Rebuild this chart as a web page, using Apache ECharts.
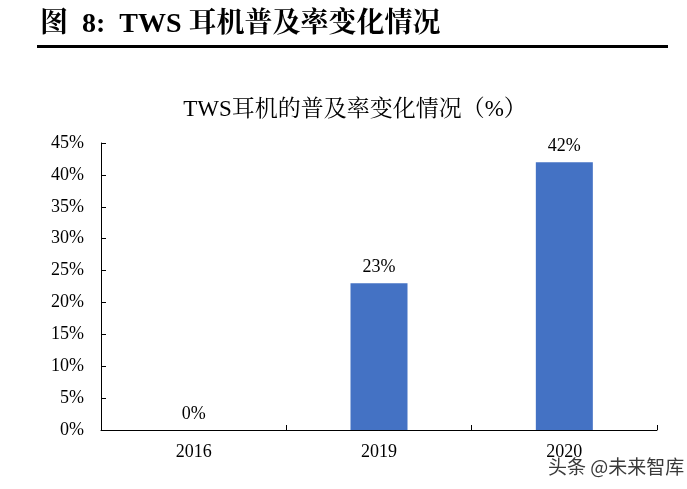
<!DOCTYPE html>
<html><head><meta charset="utf-8">
<script src="https://cdn.jsdelivr.net/npm/echarts@6/dist/echarts.min.js"></script>
<style>html,body{margin:0;padding:0;background:#fff;}#c{width:687px;height:489px;}</style>
</head><body><div id="c"></div>
<script>
const categories = ['2016', '2019', '2020'];
const values = [0, 23, 42];
const yTicks = [0, 5, 10, 15, 20, 25, 30, 35, 40, 45];
const headerText = '图  8:  TWS 耳机普及率变化情况';
const chartTitle = 'TWS耳机的普及率变化情况（%）';
const watermark = '头条 @未来智库';

const serif = '"Liberation Serif", "Times New Roman", "Noto Serif CJK SC", "Noto Sans CJK SC", serif';
const chart = echarts.init(document.getElementById('c'));
chart.setOption({
  backgroundColor: '#fff',
  animation: false,
  title: {
    text: chartTitle, left: 350, textAlign: 'center', top: 93,
    textStyle: { fontFamily: serif, fontSize: 23, fontWeight: 'normal', color: '#000' }
  },
  grid: { left: 101, right: 30, top: 143, bottom: 59 },
  xAxis: {
    type: 'category', data: categories,
    axisLine: { lineStyle: { color: '#000', width: 1 } },
    axisTick: { show: true, inside: true, length: 5, lineStyle: { color: '#000' } },
    axisLabel: { color: '#000', fontFamily: serif, fontSize: 18, margin: 13 }
  },
  yAxis: {
    type: 'value', min: 0, max: 45, interval: 5,
    axisLine: { show: true, lineStyle: { color: '#000', width: 1 } },
    axisTick: { show: true, inside: true, length: 5, lineStyle: { color: '#000' } },
    splitLine: { show: false },
    axisLabel: { color: '#000', fontFamily: serif, fontSize: 18, margin: 17,
      formatter: v => yTicks.includes(v) ? v + '%' : '' }
  },
  series: [{
    type: 'bar', data: values, barWidth: 57,
    itemStyle: { color: '#4472C4' },
    label: { show: true, position: 'top', distance: 7, formatter: '{c}%',
      color: '#000', fontFamily: serif, fontSize: 18 }
  }],
  graphic: [
    { type: 'text', left: 40, top: 11,
      style: { text: headerText, font: 'bold 28px ' + serif, fill: '#000' } },
    { type: 'rect', shape: { x: 37, y: 45, width: 631, height: 3 }, style: { fill: '#000' } },
    { type: 'text', left: 547, top: 456,
      style: { text: watermark, font: '19px "Noto Sans CJK SC", sans-serif', fill: '#3a3a3a',
        stroke: '#fff', lineWidth: 2 } }
  ]
});
</script></body></html>
